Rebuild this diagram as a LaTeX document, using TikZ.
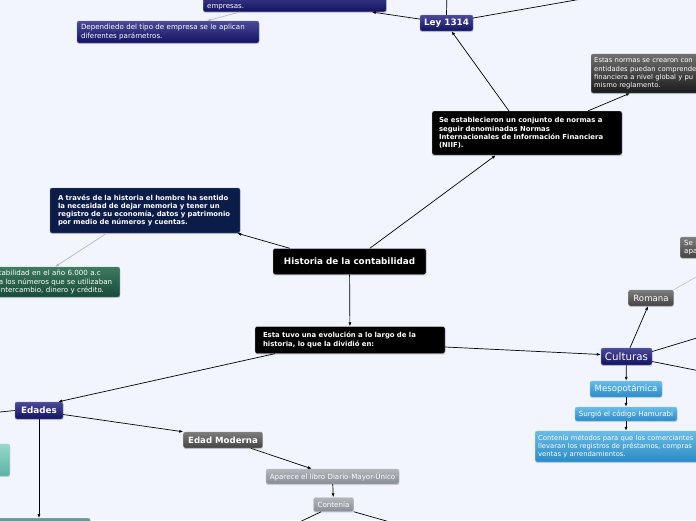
\documentclass[tikz,border=0pt]{standalone}
\usepackage{fontspec}
\setmainfont{DejaVu Sans}
\usepackage{tikz}
\usetikzlibrary{positioning, calc, arrows.meta, shadows}
\definecolor{paper}{RGB}{242,245,254}
\definecolor{navytop}{RGB}{74,74,152}
\definecolor{navybot}{RGB}{18,18,98}
\definecolor{navyedge}{RGB}{130,130,185}
\definecolor{deepnavy}{RGB}{12,28,72}
\definecolor{inkedge}{RGB}{205,205,210}
\definecolor{slatetop}{RGB}{124,124,124}
\definecolor{slatebot}{RGB}{68,68,68}
\definecolor{chartop}{RGB}{112,112,112}
\definecolor{charbot}{RGB}{26,26,26}
\definecolor{ashtop}{RGB}{178,182,188}
\definecolor{ashbot}{RGB}{136,142,150}
\definecolor{skytop}{RGB}{104,188,232}
\definecolor{skybot}{RGB}{42,138,198}
\definecolor{mosstop}{RGB}{62,122,96}
\definecolor{mossbot}{RGB}{24,74,58}
\definecolor{tealtop}{RGB}{152,216,202}
\definecolor{tealbot}{RGB}{90,178,164}
\definecolor{tealgray}{RGB}{110,150,150}
\newcommand{\fsmall}{\fontsize{7.1}{8.4}\selectfont}
\newcommand{\fedge}{\fontsize{6.8}{8.4}\selectfont}
\newcommand{\fbold}{\fontsize{6.9}{8.3}\selectfont\bfseries}
\newcommand{\ftopic}{\fontsize{8.8}{10}\selectfont\bfseries}
\newcommand{\fmid}{\fontsize{8.6}{10}\selectfont}
\newcommand{\fbig}{\fontsize{10.3}{12}\selectfont}

\begin{document}
\begin{tikzpicture}[x=1pt, y=-1pt,
  every node/.style={text=white},
  box/.style={rounded corners=2pt, inner sep=0pt, align=left, line width=0.4pt,
    drop shadow={shadow xshift=0.3pt, shadow yshift=-1.2pt, opacity=0.25}},
  navy/.style={box, top color=navytop, bottom color=navybot, draw=navyedge},
  ink/.style={box, fill=black, draw=inkedge},
  deep/.style={box, fill=deepnavy, draw=deepnavy!60!white},
  slate/.style={box, top color=slatetop, bottom color=slatebot, draw=slatetop!80!white},
  char/.style={box, top color=chartop, bottom color=charbot, draw=chartop},
  ash/.style={box, top color=ashtop, bottom color=ashbot, draw=ashtop!80!white},
  sky/.style={box, top color=skytop, bottom color=skybot, draw=skytop!80!white},
  moss/.style={box, top color=mosstop, bottom color=mossbot, draw=mosstop!80!white},
  teal/.style={box, top color=tealtop, bottom color=tealbot, draw=tealtop},
  link/.style={draw=black, line width=0.7pt, -{Latex[length=4pt,width=3pt]}},
  faint/.style={link, draw=gray!55},
  plain/.style={draw=black, line width=0.7pt},
  pale/.style={draw=gray!45, line width=0.7pt}]
  \useasboundingbox (0,0) rectangle (696,520);
  \fill[paper] (0,0) rectangle (696,520);
  \clip (0,0) rectangle (696,520);

  % Ley 1314 branch
  \node[navy, anchor=south west, text width=175, inner xsep=4, inner ysep=2, font=\fsmall]
    (topbox) at (203,12) {\mbox{}\\\mbox{}\\empresas.};
  \node[navy, text width=174, inner xsep=4, minimum height=22, font=\fsmall]
    (dep) at (168,32) {Dependiedo del tipo de empresa se le aplican\\diferentes parámetros.};
  \node[navy, align=center, minimum width=53, minimum height=16, font=\ftopic]
    (ley) at (446.5,23) {Ley 1314};
  \node[ink, text width=176, inner xsep=7, minimum height=44, font=\fbold] (niif) at (527,133)
    {Se establecieron un conjunto de normas a\\seguir denominadas Normas\\Internacionales de Información Financiera\\(NIIF).};
  \node[char, anchor=west, text width=200, inner xsep=3, minimum height=39, font=\fedge] (estas) at (591,73.5)
    {Estas normas se crearon con\\entidades puedan comprende\\financiera a nivel global y pu\\mismo reglamento.};

  % Centre and left
  \node[deep, text width=174, inner xsep=8, minimum height=45, font=\fbold] (atraves) at (145,210.5)
    {A través de la historia el hombre ha sentido\\la necesidad de dejar memoria y tener un\\registro de su economía, datos y patrimonio\\por medio de números y cuentas.};
  \node[moss, anchor=east, text width=117, inner xsep=4, minimum height=30, font=\fsmall] (origen) at (120,282)
    {tabilidad en el año 6.000 a.c\\a los números que se utilizaban\\intercambio, dinero y crédito.};
  \node[ink, align=center, minimum width=153, minimum height=26, font=\ftopic]
    (historia) at (349.5,261.5) {Historia de la contabilidad};
  \node[ink, text width=174, inner xsep=8, minimum height=27, font=\fbold] (evolucion) at (350,340)
    {Esta tuvo una evolución a lo largo de la\\historia, lo que la dividió en:};

  % Culturas
  \node[navy, align=center, minimum width=51, minimum height=17, font=\fbig] (culturas) at (626.5,356.5) {Culturas};
  \node[slate, align=center, minimum width=45, minimum height=16, font=\fmid] (romana) at (651,298) {Romana};
  \node[slate, anchor=west, text width=60, inner xsep=4, minimum height=21, font=\fsmall] (roma) at (680,247.5) {Se p\\apa};
  \node[sky, align=center, minimum width=72, minimum height=16, font=\fmid] (meso) at (626,389) {Mesopotámica};
  \node[sky, align=center, minimum width=102, minimum height=14, font=\fsmall] (hamurabi) at (626,414) {Surgió el código Hamurabi};
  \node[sky, anchor=west, text width=200, inner xsep=3, minimum height=31, font=\fedge] (metodos) at (535,446.5)
    {Contenía métodos para que los comerciantes\\llevaran los registros de préstamos, compras\\ventas y arrendamientos.};

  % Edades
  \node[navy, align=center, minimum width=48, minimum height=17, font=\ftopic] (edades) at (39,410.5) {Edades};
  \node[teal, anchor=east, minimum width=100, minimum height=32] (antigua) at (10,460) {};
  \node[box, fill=tealgray, draw=tealgray!70!white, anchor=north west, minimum width=110, minimum height=20] (abajo) at (-20,518) {};
  \node[slate, align=center, minimum width=79, minimum height=16, font=\fontsize{8.6}{10}\selectfont\bfseries]
    (moderna) at (223,440) {Edad Moderna};
  \node[ash, align=center, minimum width=133, minimum height=15, font=\fsmall] (libro) at (332.5,476.5) {Aparece el libro Diario-Mayor-Único};
  \node[ash, align=center, minimum width=40, minimum height=14, font=\fsmall] (contenia) at (333.5,504.5) {Contenía};

  % Loose ends
  \coordinate (arriba) at (447,-10);
  \coordinate (derecha) at (610,-6);
  \coordinate (este1) at (710,334);
  \coordinate (este2) at (710,373);
  \coordinate (este3) at (710,269);
  \coordinate (oeste) at (-10,413);
  \coordinate (sur1) at (291,526);
  \coordinate (sur2) at (404,526);

  % Connectors
  \draw[link] (ley) -- (topbox);
  \draw[faint] ([xshift=37]topbox.south west) -- ([xshift=130]dep.north west);
  \draw[plain] (ley.north) -- (arriba);
  \draw[plain] ([yshift=5]ley.east) -- (derecha);
  \draw[link] ([xshift=77]niif.north west) -- ([xshift=5]ley.south);
  \draw[link] ([xshift=-34]niif.north east) -- ([xshift=39]estas.south west);
  \draw[link] ([xshift=97]historia.north west) -- ([xshift=64]niif.south west);
  \draw[link] ([xshift=17]historia.north west) -- ([xshift=-3]atraves.south east);
  \draw[faint] ([xshift=57]atraves.south west) -- ([xshift=-65]origen.north east);
  \draw[link] (historia) -- (evolucion);
  \draw[link] ([xshift=20]evolucion.south west) -- ([xshift=-5]edades.north east);
  \draw[link] ([yshift=-7]evolucion.east) -- ([yshift=2]culturas.west);
  \draw[link] ([xshift=3.5]culturas.north) -- ([xshift=-3]romana.south);
  \draw[plain] ([yshift=5]culturas.east) -- (este1);
  \draw[plain] ([yshift=-5]culturas.east) -- (este2);
  \draw[pale] (romana.north east) -- (este3);
  \draw[link] (culturas) -- (meso);
  \draw[link] (meso) -- (hamurabi);
  \draw[link] (hamurabi.south) -- (hamurabi.south |- metodos.north);
  \draw[plain] (oeste) -- (edades.west);
  \draw[link] ([yshift=-4]edades.east) -- (moderna.north west);
  \draw[link] (edades.south) -- (edades.south |- abajo.north);
  \draw[link] ([xshift=-12]moderna.south east) -- ([xshift=46]libro.north west);
  \draw[link] (libro) -- (contenia);
  \draw[plain] ([xshift=8]contenia.south west) -- (sur1);
  \draw[plain] (contenia.south east) -- (sur2);
\end{tikzpicture}
\end{document}
